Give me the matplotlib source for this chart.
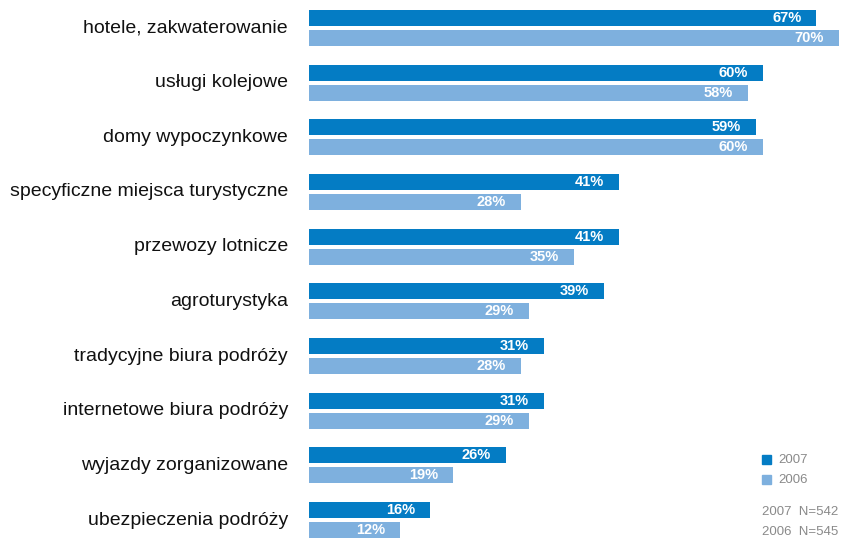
import numpy as np
import matplotlib.pyplot as plt

categories = ["hotele, zakwaterowanie", "usługi kolejowe", "domy wypoczynkowe",
              "specyficzne miejsca turystyczne", "przewozy lotnicze", "agroturystyka",
              "tradycyjne biura podróży", "internetowe biura podróży",
              "wyjazdy zorganizowane", "ubezpieczenia podróży"]
values_2007 = [67, 60, 59, 41, 41, 39, 31, 31, 26, 16]
values_2006 = [70, 58, 60, 28, 35, 29, 28, 29, 19, 12]
sample_notes = ["2007  N=542", "2006  N=545"]

dark = "#047CC4"
light = "#7EB0DE"
gray = "#8a8a8a"

plt.rcParams['font.family'] = ['Liberation Sans', 'DejaVu Sans']

W, H = 841, 540
fig = plt.figure(figsize=(W / 100, H / 100), dpi=100)
ax = fig.add_axes([309 / W, 0, 530 / W, 1])

pitch = 54.67
bh = 16 / pitch
off = 10 / pitch
y = np.arange(len(categories))

ax.barh(y - off, values_2007, height=bh, color=dark)
ax.barh(y + off, values_2006, height=bh, color=light)

ax.set_xlim(0, 70)
ax.set_ylim(9 + 20 / pitch, -28 / pitch)
ax.axis('off')

# etykiety wartości
for yi, v in zip(y, values_2007):
    ax.annotate(f"{v}%", xy=(v, yi - off), xytext=(-15, 0), textcoords="offset pixels",
                ha='right', va='center', color='white', fontsize=10.5, fontweight='bold')
for yi, v in zip(y, values_2006):
    ax.annotate(f"{v}%", xy=(v, yi + off), xytext=(-15, 0), textcoords="offset pixels",
                ha='right', va='center', color='white', fontsize=10.5, fontweight='bold')

for yi, c in zip(y, categories):
    ax.annotate(c, xy=(0, yi), xytext=(-21, 0), textcoords="offset pixels",
                ha='right', va='center', color='#111111', fontsize=14)

# legenda
fig.patches.append(plt.Rectangle((762 / W, 1 - 464 / H), 9 / W, 9 / H,
                                 transform=fig.transFigure, color=dark))
fig.patches.append(plt.Rectangle((762 / W, 1 - 484 / H), 9 / W, 9 / H,
                                 transform=fig.transFigure, color=light))
fig.text(778 / W, 1 - 460 / H, "2007", color=gray, fontsize=9.5, va='center')
fig.text(778 / W, 1 - 480 / H, "2006", color=gray, fontsize=9.5, va='center')
fig.text(838 / W, 1 - 512 / H, sample_notes[0], color=gray, fontsize=9.5, va='center', ha='right')
fig.text(838 / W, 1 - 532 / H, sample_notes[1], color=gray, fontsize=9.5, va='center', ha='right')

plt.savefig('out.png', dpi=100)
